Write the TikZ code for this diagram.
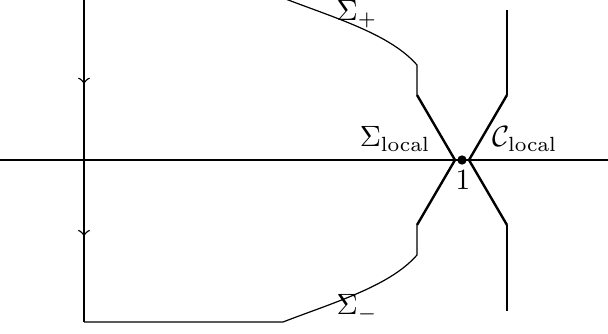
\documentclass[tikz,border=0pt]{standalone}
\usetikzlibrary{decorations.markings,arrows}
\begin{document}
\begin{tikzpicture}[x=0.375pt,y=-0.375pt,
  thinline/.style={line width=0.4pt},
  contour/.style={line width=0.45pt},
  boldline/.style={line width=0.9pt},
  midline/.style={line width=0.6pt},
  lbl/.style={inner sep=0pt,scale=1.1},
  downarrows/.style={postaction={decorate},decoration={markings,
     mark=at position 0.265 with {\arrow[scale=1.2]{to}},
     mark=at position 0.735 with {\arrow[scale=1.2]{to}}}}]
\useasboundingbox (0,0) rectangle (608,333);
% coordinates
\coordinate (axL) at (0,160);
\coordinate (axR) at (608,160);
\coordinate (tl) at (84,-2);
\coordinate (bl) at (84,322);
\coordinate (tb) at (283,-2);
\coordinate (bb) at (283,322);
\coordinate (tc) at (417,65);
\coordinate (bc) at (417,255);
\coordinate (tx) at (417,95);
\coordinate (bx) at (417,225);
\coordinate (lv) at (455,160);
\coordinate (rv) at (469,160);
\coordinate (rtx) at (507,95);
\coordinate (rbx) at (507,225);
\coordinate (rtop) at (507,10);
\coordinate (rbot) at (507,311);
% axis
\draw[thinline] (axL) -- (axR);
% left vertical with arrows
\draw[contour,downarrows] (tl) -- (bl);
% bottom part
\draw[contour] (bl) -- (bb) .. controls (335,302) and (390,286) .. (bc) -- (bx);
% top part
\draw[contour] (tl) -- (tb) .. controls (335,18) and (390,34) .. (tc) -- (tx);
% local contours
\draw[boldline] (tx) -- (lv) -- (bx);
\draw[boldline] (rtx) -- (rv) -- (rbx);
\draw[midline] (rtop) -- (rtx);
\draw[midline] (rbx) -- (rbot);
% point 1
\node[circle,fill,inner sep=0pt,minimum size=3.5pt] (one) at (462,160) {};
\node[lbl] (onelbl) at (463,180) {$1$};
% labels
\node[lbl,anchor=west] (sp) at (336,14) {$\Sigma_+$};
\node[lbl,anchor=west] (sm) at (336,308) {$\Sigma_-$};
\node[lbl] (sl) at (395,139) {$\Sigma_{\mathrm{local}}$};
\node[lbl] (cl) at (525,139) {$\mathcal{C}_{\mathrm{local}}$};
\end{tikzpicture}
\end{document}
